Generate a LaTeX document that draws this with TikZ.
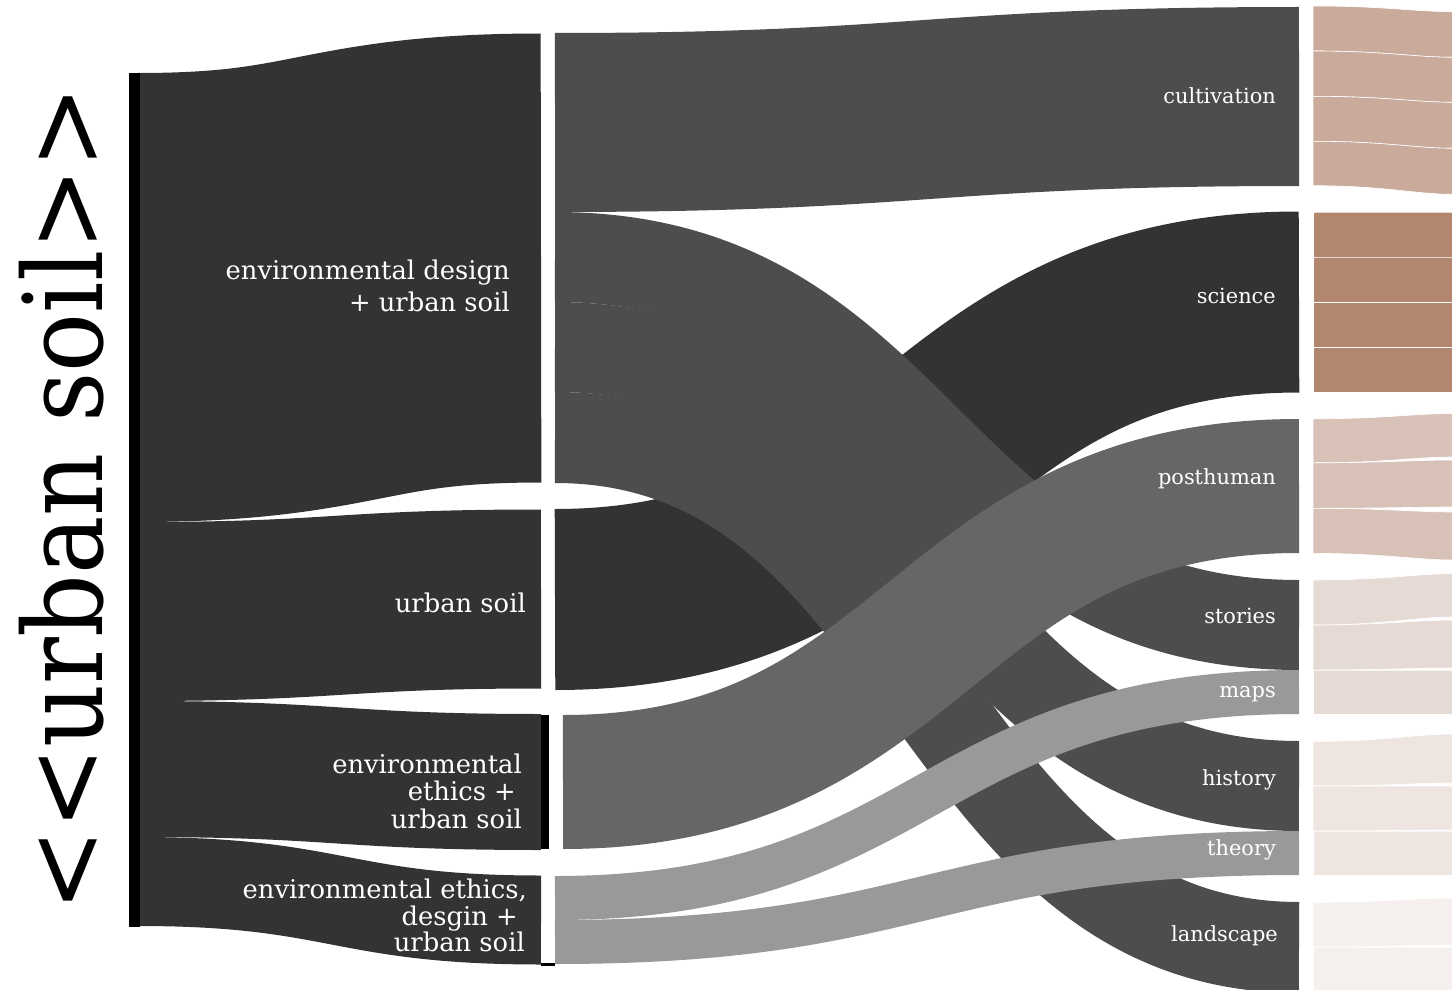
\documentclass[tikz,border=0pt]{standalone}
\usepackage{fontspec}
\setmainfont{DejaVu Serif}
\definecolor{inkA}{HTML}{333333}
\definecolor{inkB}{HTML}{4D4D4D}
\definecolor{inkC}{HTML}{666666}
\definecolor{inkD}{HTML}{999999}
\definecolor{soilCult}{HTML}{C9AA9B}
\definecolor{soilSci}{HTML}{B3866F}
\definecolor{soilPost}{HTML}{D8C2B8}
\definecolor{soilStor}{HTML}{E6DAD5}
\definecolor{soilHist}{HTML}{EEE5E1}
\definecolor{soilLand}{HTML}{F5F0ED}
% a sankey link drawn as a thick stroke along its centre curve:
% x0, top0, bottom0, x1, top1, bottom1, colour
\newcommand\flowband[7]{%
  \pgfmathsetmacro\fxm{(#1+#4)/2}%
  \pgfmathsetmacro\fya{(#2+#3)/2}%
  \pgfmathsetmacro\fyb{(#5+#6)/2}%
  \pgfmathsetmacro\fw{#3-#2}%
  \draw[#7,line width=\fw pt,line cap=butt]
     (#1,\fya) .. controls (\fxm,\fya) and (\fxm,\fyb) .. (#4,\fyb);}
% an outgoing link running off the right edge: top0, bottom0, top1, bottom1, colour
\newcommand\tailband[5]{%
  \filldraw[fill=#5,draw=white,line width=0.6pt]
     (1313,#1) .. controls (1385,#1) and (1415,#3) .. (1453,#3)
     -- (1453,#4) .. controls (1415,#4) and (1385,#2) .. (1313,#2) -- cycle;}
\begin{document}
\begin{tikzpicture}[x=1pt,y=-1pt,
  lab/.style={text=white,inner sep=0pt,anchor=base east,font=\fontsize{25.8}{30}\selectfont},
  rlab/.style={text=white,inner sep=0pt,anchor=base east,font=\fontsize{20.9}{24}\selectfont}]
\useasboundingbox (0,0) rectangle (1452,990);
\fill[white] (0,0) rectangle (1452,990);
\clip (0,0) rectangle (1452,990);

% first stage: urban soil -> four themes
\flowband{138}{73}{522}{541}{33}{483}{inkA}
\flowband{138}{522}{701}{541}{509}{689}{inkA}
\flowband{138}{701}{837}{541}{715}{849}{inkA}
\flowband{138}{837}{926}{541}{876}{964}{inkA}

% second stage: themes -> topics
\flowband{555}{509}{690}{1299}{212}{392}{inkA}        % science
\flowband{555}{33}{212}{1299}{7}{186}{inkB}           % cultivation
\flowband{555}{212}{302}{1299}{580}{670}{inkB}        % stories
\flowband{555}{302}{392}{1299}{741}{831}{inkB}        % history
\flowband{555}{392}{483}{1299}{902}{993}{inkB}        % landscape
\flowband{563}{715}{849}{1299}{419}{553}{inkC}        % posthuman
\flowband{555}{876}{920}{1299}{670}{714}{inkD}        % maps
\flowband{555}{920}{964}{1299}{831}{875}{inkD}        % theory

% node bars
\fill[black] (129,73) rectangle (140,927);
\fill[black] (541,715) rectangle (549,849);
\fill[black] (541,963) rectangle (555,965.5);

% third stage (running off the edge)
\tailband{6}{51}{11.7}{57.3}{soilCult}
\tailband{51}{96.3}{57.3}{102.3}{soilCult}
\tailband{96.3}{141.3}{102.3}{148.3}{soilCult}
\tailband{141.3}{185.7}{148.3}{194.3}{soilCult}
\tailband{212}{257}{212}{257}{soilSci}
\tailband{257}{302.3}{257}{302.3}{soilSci}
\tailband{302.3}{347.3}{302.3}{347.3}{soilSci}
\tailband{347.3}{392.3}{347.3}{392.3}{soilSci}
\tailband{418.8}{462.8}{413.5}{457}{soilPost}
\tailband{462.8}{508.3}{460}{507}{soilPost}
\tailband{508.3}{553.4}{512}{560}{soilPost}
\tailband{580}{625}{573.7}{617}{soilStor}
\tailband{625}{670}{620}{668}{soilStor}
\tailband{670}{714.3}{670}{714.3}{soilStor}
\tailband{741.4}{786}{734}{783}{soilHist}
\tailband{786}{831}{786}{830}{soilHist}
\tailband{831}{875.6}{831}{875.6}{soilHist}
\tailband{902.3}{947}{898}{945}{soilLand}
\tailband{947}{992}{947}{992}{soilLand}

% title
\node[rotate=90,inner sep=0pt,anchor=base,font=\fontsize{98}{98}\selectfont] (title) at (102,499)
  {\scalebox{1}[1.12]{<\kern0pt<urban soil>\kern0pt>}};

% theme labels
\node[lab] (edA) at (510,279) {environmental design};
\node[lab] (edB) at (510,311.5) {+ urban soil};
\node[lab] (us)  at (526,612) {urban soil};
\node[lab] (eeA) at (522,773) {environmental};
\node[lab] (eeB) at (516,800.5) {ethics +};
\node[lab] (eeC) at (522,828) {urban soil};
\node[lab] (edeA) at (527,898) {environmental ethics,};
\node[lab] (edeB) at (518,925) {desgin +};
\node[lab] (edeC) at (525,951.5) {urban soil};

% topic labels
\node[rlab] (cult) at (1276,103.3) {cultivation};
\node[rlab] (sci)  at (1276,303) {science};
\node[rlab] (post) at (1276,484) {posthuman};
\node[rlab] (stor) at (1276,623) {stories};
\node[rlab] (maps) at (1276,697) {maps};
\node[rlab] (hist) at (1276,785) {history};
\node[rlab] (theo) at (1276,855) {theory};
\node[rlab] (land) at (1278,941) {landscape};
\end{tikzpicture}
\end{document}
